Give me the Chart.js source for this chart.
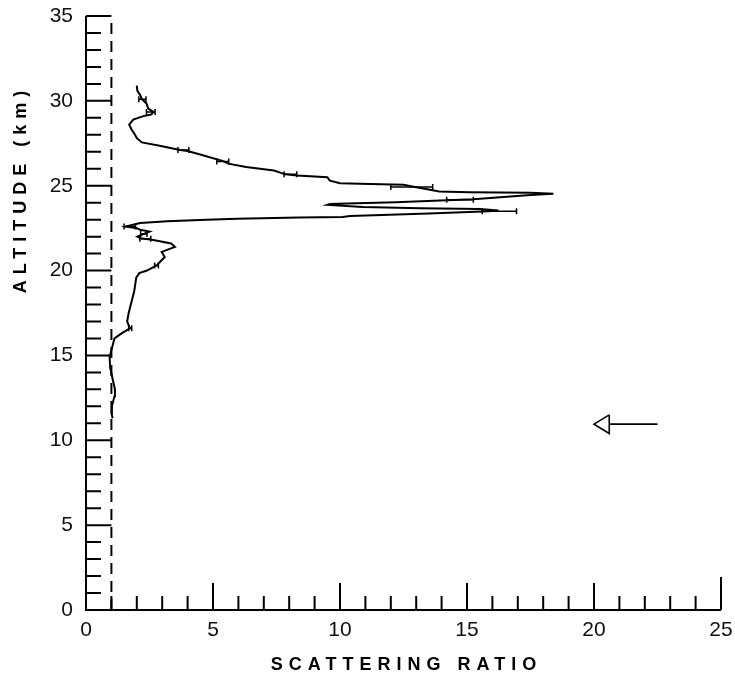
<!DOCTYPE html>
<html>
<head>
<meta charset="utf-8">
<script src="https://cdn.jsdelivr.net/npm/chart.js@4.4.1/dist/chart.umd.min.js"></script>
<style>
  html, body { margin: 0; padding: 0; background: #fff; }
</style>
</head>
<body>
<canvas id="profile" width="735" height="677"></canvas>
<script>
// lidar backscatter profile, read bottom to top along the trace
var altitude = [11.3, 11.6, 12.0, 12.6, 13.0, 13.6, 14.3, 14.9, 15.6, 16.0, 16.3, 16.6, 17.0, 17.5, 18.2,
  18.8, 19.3, 19.6, 19.85, 20.0, 20.3, 20.8, 21.1, 21.4, 21.6, 21.8, 21.9, 22.0, 22.15, 22.3, 22.4, 22.5,
  22.6, 22.8, 22.9, 23.0, 23.05, 23.12, 23.15, 23.22, 23.36, 23.48, 23.52, 23.55,
  23.63, 23.67, 23.75, 23.87,
  23.92, 23.97, 24.02, 24.15, 24.2, 24.45, 24.52,
  24.58, 24.62, 24.66, 24.75, 24.93, 25.05, 25.1, 25.15, 25.3, 25.5, 25.6, 25.67,
  25.9, 26.1, 26.3, 26.45, 26.8, 27.05, 27.1, 27.35, 27.55, 27.8, 28.0, 28.3, 28.6, 28.9, 29.1, 29.2,
  29.35, 29.55, 29.85, 30.1, 30.35, 30.6, 30.9];
var ratio = [1.05, 1.0, 1.02, 1.12, 1.14, 1.05, 0.95, 0.93, 1.05, 1.12, 1.4, 1.73, 1.62, 1.68, 1.8,
  1.9, 1.95, 1.98, 2.1, 2.4, 2.78, 3.1, 2.98, 3.5, 3.35, 2.65, 2.15, 2.02, 2.26, 2.5, 2.13, 2.0,
  1.57, 2.13, 3.2, 4.75, 5.95, 8.4, 10.1, 10.4, 13.5, 15.6, 16.2, 16.2,
  15.5, 13.15, 10.9, 9.5,
  9.6, 10.66, 12.2, 14.2, 15.25, 17.5, 18.4,
  17.5, 15.1, 13.9, 13.6, 12.95, 12.5, 11.2, 10.0, 9.6, 9.5, 8.3, 7.85,
  7.4, 6.3, 5.6, 5.4, 4.6, 4.0, 3.7, 2.9, 2.2, 2.0, 1.93, 1.8, 1.7, 1.86, 2.26, 2.58,
  2.65, 2.45, 2.38, 2.2, 2.13, 2.02, 2.0];

// horizontal error bars
var errAlt = [30.1, 29.35, 27.1, 26.42, 25.67, 24.93, 24.18, 23.5, 22.6, 22.15, 21.88, 20.3, 16.6];
var errLow = [2.08, 2.38, 3.62, 5.15, 7.8, 12.0, 14.2, 15.6, 1.5, 2.15, 2.12, 2.7, 1.68];
var errHigh = [2.36, 2.72, 4.05, 5.62, 8.3, 13.65, 15.25, 16.95, 1.95, 2.4, 2.55, 2.85, 1.8];

// clean-air reference (ratio = 1)
var refRatio = 1;

// arrow marking the tropopause
var arrowAlt = 10.95;
var arrowTip = 20.0;
var arrowBase = 20.6;
var arrowTail = 22.5;
var arrowHalf = 0.55;

var xTicks = [0, 5, 10, 15, 20, 25];
var yTicks = [0, 5, 10, 15, 20, 25, 30, 35];

var profilePts = altitude.map(function(a, i) { return {x: ratio[i], y: a}; });

var frame = {
  id: 'frame',
  beforeDatasetsDraw: function(chart) {
    var ctx = chart.ctx, xs = chart.scales.x, ys = chart.scales.y;
    var x0 = xs.getPixelForValue(xs.min), xr = xs.getPixelForValue(xs.max);
    var yb = ys.getPixelForValue(ys.min), yt = ys.getPixelForValue(ys.max);
    var refX = xs.getPixelForValue(refRatio);
    ctx.save();
    ctx.strokeStyle = '#000';
    ctx.lineWidth = 2;
    ctx.beginPath();
    ctx.moveTo(x0, yt);
    ctx.lineTo(x0, yb);
    ctx.lineTo(xr, yb);
    for (var v = ys.min + 1; v <= ys.max; v++) {
      var py = ys.getPixelForValue(v);
      ctx.moveTo(x0, py);
      ctx.lineTo(v % 5 === 0 ? refX : x0 + 15, py);
    }
    for (var u = xs.min + 1; u <= xs.max; u++) {
      var px = xs.getPixelForValue(u);
      var h = u === xs.max ? 33 : (u % 5 === 0 ? 27 : 14);
      ctx.moveTo(px, yb);
      ctx.lineTo(px, yb - h);
    }
    ctx.stroke();

    // axis titles
    ctx.fillStyle = '#000';
    ctx.font = 'bold 18px "Liberation Sans", Arial, sans-serif';
    ctx.textAlign = 'center';
    ctx.textBaseline = 'middle';
    ctx.letterSpacing = '6px';
    ctx.fillText('SCATTERING RATIO', (x0 + xr) / 2 + 3, 665);
    ctx.translate(21, 192);
    ctx.rotate(-Math.PI / 2);
    ctx.fillText('ALTITUDE (km)', 3, 0);
    ctx.restore();
  },
  afterDatasetsDraw: function(chart) {
    var ctx = chart.ctx, xs = chart.scales.x, ys = chart.scales.y;
    ctx.save();
    ctx.strokeStyle = '#000';
    ctx.lineWidth = 1.5;
    ctx.beginPath();
    for (var i = 0; i < errAlt.length; i++) {
      var py = ys.getPixelForValue(errAlt[i]);
      var a = xs.getPixelForValue(errLow[i]), b = xs.getPixelForValue(errHigh[i]);
      ctx.moveTo(a, py); ctx.lineTo(b, py);
      ctx.moveTo(a, py - 3); ctx.lineTo(a, py + 3);
      ctx.moveTo(b, py - 3); ctx.lineTo(b, py + 3);
    }
    ctx.stroke();
    ctx.restore();
  }
};

new Chart(document.getElementById('profile'), {
  type: 'scatter',
  data: {
    datasets: [
      {
        data: profilePts,
        showLine: true,
        borderColor: '#000',
        borderWidth: 2,
        pointRadius: 0,
        tension: 0
      },
      {
        data: [{x: refRatio, y: 0}, {x: refRatio, y: 35}],
        showLine: true,
        borderColor: '#000',
        borderWidth: 2,
        borderDash: [11, 7],
        pointRadius: 0
      },
      {
        data: [{x: arrowBase, y: arrowAlt + arrowHalf}, {x: arrowTip, y: arrowAlt},
               {x: arrowBase, y: arrowAlt - arrowHalf}, {x: arrowBase, y: arrowAlt + arrowHalf}],
        showLine: true,
        borderColor: '#000',
        borderWidth: 1.6,
        pointRadius: 0
      },
      {
        data: [{x: arrowBase, y: arrowAlt}, {x: arrowTail, y: arrowAlt}],
        showLine: true,
        borderColor: '#000',
        borderWidth: 1.6,
        pointRadius: 0
      }
    ]
  },
  options: {
    responsive: false,
    animation: false,
    events: [],
    layout: { padding: { top: 16, right: 14, left: 0, bottom: 0 } },
    plugins: { legend: { display: false }, tooltip: { enabled: false } },
    scales: {
      x: {
        type: 'linear',
        min: 0,
        max: 25,
        afterFit: function(s) { s.height = 67; s.paddingLeft = 0; s.paddingRight = 0; },
        afterBuildTicks: function(s) { s.ticks = xTicks.map(function(v) { return {value: v}; }); },
        grid: { display: false, drawTicks: false },
        border: { display: false },
        ticks: { color: '#111', padding: 8, maxRotation: 0, autoSkip: false,
                 font: { family: '"Liberation Sans", Arial, sans-serif', size: 21 } }
      },
      y: {
        type: 'linear',
        min: 0,
        max: 35,
        afterFit: function(s) { s.width = 86; s.paddingTop = 0; s.paddingBottom = 0; },
        afterBuildTicks: function(s) { s.ticks = yTicks.map(function(v) { return {value: v}; }); },
        grid: { display: false, drawTicks: false },
        border: { display: false },
        ticks: { color: '#111', padding: 13, autoSkip: false,
                 font: { family: '"Liberation Sans", Arial, sans-serif', size: 21 } }
      }
    }
  },
  plugins: [frame]
});
</script>
</body>
</html>
